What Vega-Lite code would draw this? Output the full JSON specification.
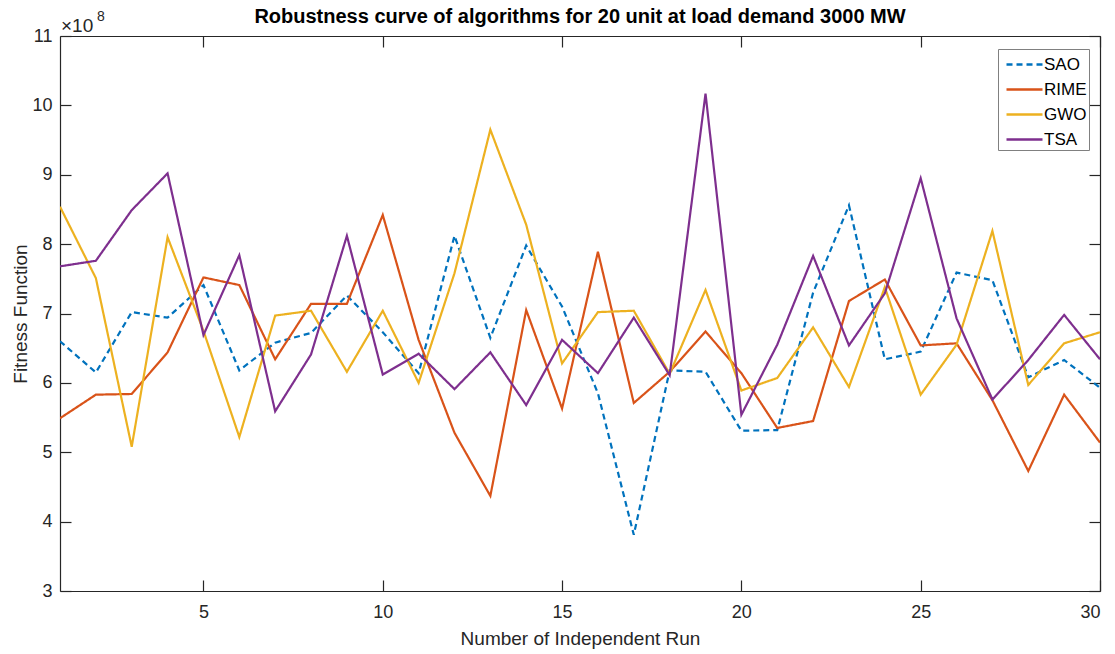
{
  "$schema": "https://vega.github.io/schema/vega-lite/v6.json",
  "width": 1040,
  "height": 555,
  "autosize": "none",
  "padding": {"left": 60, "top": 36, "right": 15, "bottom": 63},
  "background": "white",
  "title": {
    "text": "Robustness curve of algorithms for 20 unit at load demand 3000 MW",
    "font": "Liberation Sans",
    "fontSize": 20,
    "fontWeight": "bold",
    "color": "#000000",
    "anchor": "middle",
    "offset": -17
  },
  "config": {
    "view": {"stroke": null},
    "font": "Liberation Sans",
    "axis": {
      "grid": false,
      "domainColor": "#262626",
      "tickColor": "#262626",
      "labelColor": "#262626",
      "titleColor": "#262626",
      "labelFont": "Liberation Sans",
      "titleFont": "Liberation Sans",
      "labelFontSize": 18,
      "titleFontSize": 19,
      "titleFontWeight": "normal",
      "domainWidth": 1.2,
      "tickWidth": 1.2
    }
  },
  "data": {
    "values": [
      {"run": 1, "algorithm": "SAO", "fitness": 6.60e8},
      {"run": 2, "algorithm": "SAO", "fitness": 6.15e8},
      {"run": 3, "algorithm": "SAO", "fitness": 7.02e8},
      {"run": 4, "algorithm": "SAO", "fitness": 6.94e8},
      {"run": 5, "algorithm": "SAO", "fitness": 7.41e8},
      {"run": 6, "algorithm": "SAO", "fitness": 6.18e8},
      {"run": 7, "algorithm": "SAO", "fitness": 6.58e8},
      {"run": 8, "algorithm": "SAO", "fitness": 6.72e8},
      {"run": 9, "algorithm": "SAO", "fitness": 7.26e8},
      {"run": 10, "algorithm": "SAO", "fitness": 6.73e8},
      {"run": 11, "algorithm": "SAO", "fitness": 6.14e8},
      {"run": 12, "algorithm": "SAO", "fitness": 8.12e8},
      {"run": 13, "algorithm": "SAO", "fitness": 6.65e8},
      {"run": 14, "algorithm": "SAO", "fitness": 7.98e8},
      {"run": 15, "algorithm": "SAO", "fitness": 7.10e8},
      {"run": 16, "algorithm": "SAO", "fitness": 5.85e8},
      {"run": 17, "algorithm": "SAO", "fitness": 3.81e8},
      {"run": 18, "algorithm": "SAO", "fitness": 6.18e8},
      {"run": 19, "algorithm": "SAO", "fitness": 6.16e8},
      {"run": 20, "algorithm": "SAO", "fitness": 5.31e8},
      {"run": 21, "algorithm": "SAO", "fitness": 5.32e8},
      {"run": 22, "algorithm": "SAO", "fitness": 7.30e8},
      {"run": 23, "algorithm": "SAO", "fitness": 8.56e8},
      {"run": 24, "algorithm": "SAO", "fitness": 6.34e8},
      {"run": 25, "algorithm": "SAO", "fitness": 6.45e8},
      {"run": 26, "algorithm": "SAO", "fitness": 7.59e8},
      {"run": 27, "algorithm": "SAO", "fitness": 7.48e8},
      {"run": 28, "algorithm": "SAO", "fitness": 6.08e8},
      {"run": 29, "algorithm": "SAO", "fitness": 6.33e8},
      {"run": 30, "algorithm": "SAO", "fitness": 5.93e8},
      {"run": 1, "algorithm": "RIME", "fitness": 5.49e8},
      {"run": 2, "algorithm": "RIME", "fitness": 5.83e8},
      {"run": 3, "algorithm": "RIME", "fitness": 5.84e8},
      {"run": 4, "algorithm": "RIME", "fitness": 6.44e8},
      {"run": 5, "algorithm": "RIME", "fitness": 7.52e8},
      {"run": 6, "algorithm": "RIME", "fitness": 7.41e8},
      {"run": 7, "algorithm": "RIME", "fitness": 6.34e8},
      {"run": 8, "algorithm": "RIME", "fitness": 7.14e8},
      {"run": 9, "algorithm": "RIME", "fitness": 7.14e8},
      {"run": 10, "algorithm": "RIME", "fitness": 8.42e8},
      {"run": 11, "algorithm": "RIME", "fitness": 6.62e8},
      {"run": 12, "algorithm": "RIME", "fitness": 5.28e8},
      {"run": 13, "algorithm": "RIME", "fitness": 4.37e8},
      {"run": 14, "algorithm": "RIME", "fitness": 7.05e8},
      {"run": 15, "algorithm": "RIME", "fitness": 5.63e8},
      {"run": 16, "algorithm": "RIME", "fitness": 7.89e8},
      {"run": 17, "algorithm": "RIME", "fitness": 5.71e8},
      {"run": 18, "algorithm": "RIME", "fitness": 6.16e8},
      {"run": 19, "algorithm": "RIME", "fitness": 6.74e8},
      {"run": 20, "algorithm": "RIME", "fitness": 6.14e8},
      {"run": 21, "algorithm": "RIME", "fitness": 5.35e8},
      {"run": 22, "algorithm": "RIME", "fitness": 5.45e8},
      {"run": 23, "algorithm": "RIME", "fitness": 7.18e8},
      {"run": 24, "algorithm": "RIME", "fitness": 7.49e8},
      {"run": 25, "algorithm": "RIME", "fitness": 6.54e8},
      {"run": 26, "algorithm": "RIME", "fitness": 6.57e8},
      {"run": 27, "algorithm": "RIME", "fitness": 5.75e8},
      {"run": 28, "algorithm": "RIME", "fitness": 4.73e8},
      {"run": 29, "algorithm": "RIME", "fitness": 5.83e8},
      {"run": 30, "algorithm": "RIME", "fitness": 5.14e8},
      {"run": 1, "algorithm": "GWO", "fitness": 8.54e8},
      {"run": 2, "algorithm": "GWO", "fitness": 7.51e8},
      {"run": 3, "algorithm": "GWO", "fitness": 5.08e8},
      {"run": 4, "algorithm": "GWO", "fitness": 8.10e8},
      {"run": 5, "algorithm": "GWO", "fitness": 6.75e8},
      {"run": 6, "algorithm": "GWO", "fitness": 5.22e8},
      {"run": 7, "algorithm": "GWO", "fitness": 6.97e8},
      {"run": 8, "algorithm": "GWO", "fitness": 7.04e8},
      {"run": 9, "algorithm": "GWO", "fitness": 6.16e8},
      {"run": 10, "algorithm": "GWO", "fitness": 7.04e8},
      {"run": 11, "algorithm": "GWO", "fitness": 6.00e8},
      {"run": 12, "algorithm": "GWO", "fitness": 7.58e8},
      {"run": 13, "algorithm": "GWO", "fitness": 9.65e8},
      {"run": 14, "algorithm": "GWO", "fitness": 8.28e8},
      {"run": 15, "algorithm": "GWO", "fitness": 6.28e8},
      {"run": 16, "algorithm": "GWO", "fitness": 7.02e8},
      {"run": 17, "algorithm": "GWO", "fitness": 7.04e8},
      {"run": 18, "algorithm": "GWO", "fitness": 6.13e8},
      {"run": 19, "algorithm": "GWO", "fitness": 7.34e8},
      {"run": 20, "algorithm": "GWO", "fitness": 5.89e8},
      {"run": 21, "algorithm": "GWO", "fitness": 6.07e8},
      {"run": 22, "algorithm": "GWO", "fitness": 6.80e8},
      {"run": 23, "algorithm": "GWO", "fitness": 5.94e8},
      {"run": 24, "algorithm": "GWO", "fitness": 7.38e8},
      {"run": 25, "algorithm": "GWO", "fitness": 5.83e8},
      {"run": 26, "algorithm": "GWO", "fitness": 6.55e8},
      {"run": 27, "algorithm": "GWO", "fitness": 8.19e8},
      {"run": 28, "algorithm": "GWO", "fitness": 5.97e8},
      {"run": 29, "algorithm": "GWO", "fitness": 6.57e8},
      {"run": 30, "algorithm": "GWO", "fitness": 6.73e8},
      {"run": 1, "algorithm": "TSA", "fitness": 7.68e8},
      {"run": 2, "algorithm": "TSA", "fitness": 7.76e8},
      {"run": 3, "algorithm": "TSA", "fitness": 8.49e8},
      {"run": 4, "algorithm": "TSA", "fitness": 9.02e8},
      {"run": 5, "algorithm": "TSA", "fitness": 6.69e8},
      {"run": 6, "algorithm": "TSA", "fitness": 7.84e8},
      {"run": 7, "algorithm": "TSA", "fitness": 5.59e8},
      {"run": 8, "algorithm": "TSA", "fitness": 6.41e8},
      {"run": 9, "algorithm": "TSA", "fitness": 8.12e8},
      {"run": 10, "algorithm": "TSA", "fitness": 6.12e8},
      {"run": 11, "algorithm": "TSA", "fitness": 6.42e8},
      {"run": 12, "algorithm": "TSA", "fitness": 5.91e8},
      {"run": 13, "algorithm": "TSA", "fitness": 6.44e8},
      {"run": 14, "algorithm": "TSA", "fitness": 5.68e8},
      {"run": 15, "algorithm": "TSA", "fitness": 6.62e8},
      {"run": 16, "algorithm": "TSA", "fitness": 6.14e8},
      {"run": 17, "algorithm": "TSA", "fitness": 6.94e8},
      {"run": 18, "algorithm": "TSA", "fitness": 6.11e8},
      {"run": 19, "algorithm": "TSA", "fitness": 10.17e8},
      {"run": 20, "algorithm": "TSA", "fitness": 5.54e8},
      {"run": 21, "algorithm": "TSA", "fitness": 6.55e8},
      {"run": 22, "algorithm": "TSA", "fitness": 7.83e8},
      {"run": 23, "algorithm": "TSA", "fitness": 6.54e8},
      {"run": 24, "algorithm": "TSA", "fitness": 7.29e8},
      {"run": 25, "algorithm": "TSA", "fitness": 8.95e8},
      {"run": 26, "algorithm": "TSA", "fitness": 6.93e8},
      {"run": 27, "algorithm": "TSA", "fitness": 5.76e8},
      {"run": 28, "algorithm": "TSA", "fitness": 6.33e8},
      {"run": 29, "algorithm": "TSA", "fitness": 6.98e8},
      {"run": 30, "algorithm": "TSA", "fitness": 6.34e8}
    ]
  },
  "resolve": {"axis": {"x": "independent", "y": "independent"}},
  "layer": [
    {
      "mark": {"type": "line", "strokeWidth": 2.2, "clip": true},
      "encoding": {
        "x": {
          "field": "run", "type": "quantitative",
          "scale": {"domain": [1, 30], "nice": false, "zero": false},
          "axis": {"values": [5, 10, 15, 20, 25, 30], "tickSize": -11, "labelPadding": 23, "title": "Number of Independent Run", "titlePadding": 8, "format": "d"}
        },
        "y": {
          "field": "fitness", "type": "quantitative",
          "scale": {"domain": [300000000, 1100000000], "nice": false, "zero": false},
          "axis": {"values": [300000000, 400000000, 500000000, 600000000, 700000000, 800000000, 900000000, 1000000000, 1100000000], "labelExpr": "format(datum.value / 1e8, 'd')", "tickSize": -11, "labelPadding": 19, "title": "Fitness Function", "titlePadding": 1}
        },
        "color": {
          "field": "algorithm", "type": "nominal",
          "scale": {"domain": ["SAO", "RIME", "GWO", "TSA"], "range": ["#0072BD", "#D95319", "#EDB120", "#7E2F8E"]},
          "legend": {
            "title": null, "orient": "none", "legendX": 938, "legendY": 13,
            "symbolType": "M-1,0H2", "symbolSize": 576, "symbolStrokeWidth": 2.5, "symbolOffset": 5,
            "labelFontSize": 17, "labelFont": "Liberation Sans", "labelColor": "#000000",
            "rowPadding": 3, "padding": 2, "fillColor": "white", "strokeColor": "#808080",
            "labelOffset": 12
          }
        },
        "strokeDash": {
          "field": "algorithm", "type": "nominal",
          "scale": {"domain": ["SAO", "RIME", "GWO", "TSA"], "range": [[6, 4], [1, 0], [1, 0], [1, 0]]},
          "legend": null
        },
        "order": {"field": "run", "type": "quantitative"}
      }
    },
    {
      "data": {"values": [{}]},
      "mark": {"type": "rule", "opacity": 0},
      "encoding": {
        "x": {
          "datum": 1, "type": "quantitative",
          "scale": {"domain": [1, 30], "nice": false, "zero": false},
          "axis": {"orient": "top", "values": [5, 10, 15, 20, 25, 30], "tickSize": -11, "labels": false, "title": null}
        },
        "y": {
          "datum": 300000000, "type": "quantitative",
          "scale": {"domain": [300000000, 1100000000], "nice": false, "zero": false},
          "axis": {"orient": "right", "values": [300000000, 400000000, 500000000, 600000000, 700000000, 800000000, 900000000, 1000000000, 1100000000], "tickSize": -11, "labels": false, "title": null}
        }
      }
    },
    {
      "data": {"values": [{}]},
      "mark": {"type": "text", "align": "left", "baseline": "middle", "dx": 1, "dy": -10, "fontSize": 19, "font": "Liberation Sans", "color": "#262626"},
      "encoding": {
        "x": {"datum": 1, "type": "quantitative", "scale": {"domain": [1, 30], "nice": false, "zero": false}, "axis": null},
        "y": {"datum": 1100000000, "type": "quantitative", "scale": {"domain": [300000000, 1100000000], "nice": false, "zero": false}, "axis": null},
        "text": {"value": "×10"}
      }
    },
    {
      "data": {"values": [{}]},
      "mark": {"type": "text", "align": "left", "baseline": "middle", "dx": 37, "dy": -19, "fontSize": 14, "font": "Liberation Sans", "color": "#262626"},
      "encoding": {
        "x": {"datum": 1, "type": "quantitative", "scale": {"domain": [1, 30], "nice": false, "zero": false}, "axis": null},
        "y": {"datum": 1100000000, "type": "quantitative", "scale": {"domain": [300000000, 1100000000], "nice": false, "zero": false}, "axis": null},
        "text": {"value": "8"}
      }
    }
  ]
}
